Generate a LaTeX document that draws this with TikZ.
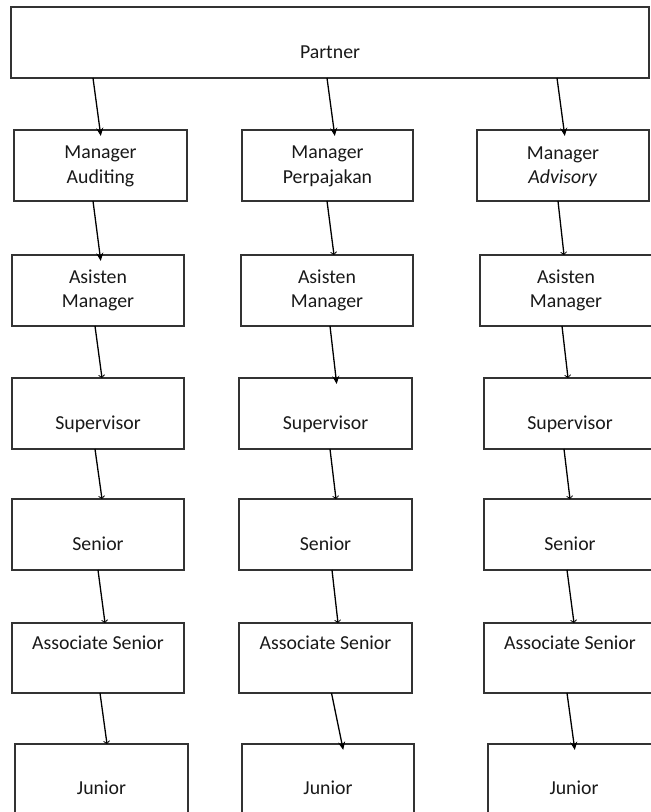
\documentclass[tikz,border=0pt]{standalone}
\usepackage{fontspec}
\setmainfont{Carlito}
\usetikzlibrary{arrows.meta,calc}
\tikzset{
  box/.style={draw=black!80, line width=1.2pt, minimum height=71pt, inner sep=0pt, outer sep=0pt},
  lbl/.style={font=\fontsize{19.8}{24.5}\selectfont, inner sep=0pt, align=center, text=black!90},
  arrbig/.style={line width=1.3pt, shorten >=-6pt, -{Stealth[length=8pt,width=7pt]}},
  arrsmall/.style={line width=1.3pt, -{Straight Barb[length=2.5pt,width=6pt,line width=0.8pt]}},
}
\begin{document}
\begin{tikzpicture}[x=1pt,y=-1pt]
\useasboundingbox (0,0) rectangle (651,812);
\clip (0,0) rectangle (651,812);
\fill[white] (0,0) rectangle (651,812);

% boxes
\node[box, minimum width=638pt] (p) at (330,42.5) {};
\node[box, minimum width=173pt] (m1) at (100.5,165.5) {};
\node[box, minimum width=171pt] (m2) at (327.5,165.5) {};
\node[box, minimum width=172pt] (m3) at (563,165.5) {};
\node[box, minimum width=172pt] (a1) at (98,290.5) {};
\node[box, minimum width=172pt] (a2) at (327,290.5) {};
\node[box, minimum width=172pt] (a3) at (566,290.5) {};
\node[box, minimum width=172pt] (s1) at (98,413.5) {};
\node[box, minimum width=173pt] (s2) at (325.5,413.5) {};
\node[box, minimum width=172pt] (s3) at (570,413.5) {};
\node[box, minimum width=172pt] (e1) at (98,534.5) {};
\node[box, minimum width=173pt] (e2) at (325.5,534.5) {};
\node[box, minimum width=172pt] (e3) at (570,534.5) {};
\node[box, minimum width=172pt, minimum height=70pt] (c1) at (98,658) {};
\node[box, minimum width=173pt, minimum height=70pt] (c2) at (325.5,658) {};
\node[box, minimum width=172pt, minimum height=70pt] (c3) at (570,658) {};
\node[box, minimum width=173pt] (j1) at (101.5,779.5) {};
\node[box, minimum width=172pt] (j2) at (328,779.5) {};
\node[box, minimum width=172pt] (j3) at (574,779.5) {};

% texts
\node[lbl, anchor=base] (tp) at (330,58.5) {Partner};
\node[lbl] (tm1) at (100.5,166.5) {Manager\\Auditing};
\node[lbl] (tm2) at (327.5,166.5) {Manager\\Perpajakan};
\node[lbl] (tm3) at (563,166.5) {Manager\\\textit{Advisory}};
\node[lbl] (ta1) at (98,290.3) {Asisten\\Manager};
\node[lbl] (ta2) at (327,290.3) {Asisten\\Manager};
\node[lbl] (ta3) at (566,290.3) {Asisten\\Manager};
\node[lbl, anchor=base] (ts1) at (98,429.5) {Supervisor};
\node[lbl, anchor=base] (ts2) at (325.5,429.5) {Supervisor};
\node[lbl, anchor=base] (ts3) at (570,429.5) {Supervisor};
\node[lbl, anchor=base] (te1) at (98,550.5) {Senior};
\node[lbl, anchor=base] (te2) at (325.5,550.5) {Senior};
\node[lbl, anchor=base] (te3) at (570,550.5) {Senior};
\node[lbl, anchor=base] (tc1) at (98,649.5) {Associate Senior};
\node[lbl, anchor=base] (tc2) at (325.5,649.5) {Associate Senior};
\node[lbl, anchor=base] (tc3) at (570,649.5) {Associate Senior};
\node[lbl, anchor=base] (tj1) at (101.5,794.5) {Junior};
\node[lbl, anchor=base] (tj2) at (328,794.5) {Junior};
\node[lbl, anchor=base] (tj3) at (574,794.5) {Junior};

% column 1
\draw[arrbig] ($(p.south west)+(82,0)$) -- ([xshift=-0.5pt]m1.north);
\draw[arrbig] ([xshift=-7.5pt]m1.south) -- ([xshift=2pt]a1.north);
\draw[arrsmall] ([xshift=-3pt]a1.south) -- ([xshift=4pt]s1.north);
\draw[arrsmall] ([xshift=-3pt]s1.south) -- ([xshift=4pt]e1.north);
\draw[arrsmall] (e1.south) -- ([xshift=7pt]c1.north);
\draw[arrsmall] ([xshift=2pt]c1.south) -- ([xshift=5.5pt]j1.north);
% column 2
\draw[arrbig] ($(p.south west)+(316,0)$) -- ([xshift=6.5pt]m2.north);
\draw[arrsmall] ([xshift=-0.5pt]m2.south) -- ([xshift=7pt]a2.north);
\draw[arrbig] ([xshift=3pt]a2.south) -- ([xshift=10.5pt]s2.north);
\draw[arrsmall] ([xshift=4.5pt]s2.south) -- ([xshift=10.5pt]e2.north);
\draw[arrsmall] ([xshift=6.5pt]e2.south) -- ([xshift=12.5pt]c2.north);
\draw[arrbig] ([xshift=6pt]c2.south) -- ([xshift=14pt]j2.north);
% column 3
\draw[arrbig] ($(p.south west)+(546,0)$) -- ([xshift=1pt]m3.north);
\draw[arrsmall] ([xshift=-5pt]m3.south) -- ([xshift=-2pt]a3.north);
\draw[arrsmall] ([xshift=-4pt]a3.south) -- ([xshift=-2pt]s3.north);
\draw[arrsmall] ([xshift=-6pt]s3.south) -- (e3.north);
\draw[arrsmall] ([xshift=-3pt]e3.south) -- ([xshift=4pt]c3.north);
\draw[arrbig] ([xshift=-3pt]c3.south) -- (j3.north);
\end{tikzpicture}
\end{document}
